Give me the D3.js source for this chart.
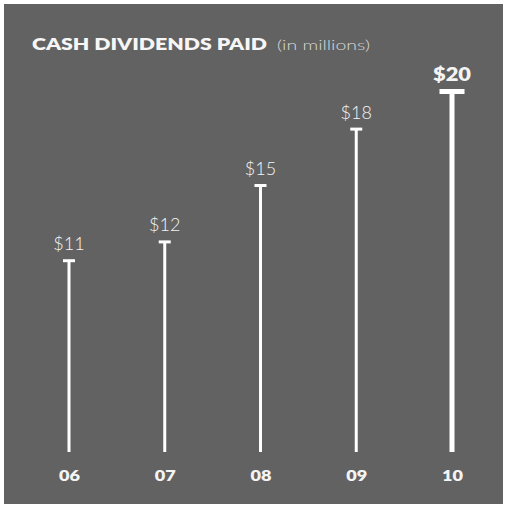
<!DOCTYPE html>
<html>
<head>
<meta charset="utf-8">
<script src="https://cdn.jsdelivr.net/npm/d3@7/dist/d3.min.js"></script>
<style>
  html, body { margin: 0; padding: 0; background: #ffffff; }
  svg { display: block; }
</style>
</head>
<body>
<script>
// Cash dividends paid, in millions of dollars
const years = ["06", "07", "08", "09", "10"];
const dividends = [11, 12, 15, 18, 20];
const valueLabels = ["$11", "$12", "$15", "$18", "$20"];

const W = 505, H = 506;
const svg = d3.select("body").append("svg").attr("width", W).attr("height", H);

// panel background
svg.append("rect")
  .attr("x", 4).attr("y", 4)
  .attr("width", W - 6).attr("height", H - 6)
  .attr("fill", "#626262");

const x = d3.scalePoint().domain(years).range([69, 452]);
const y = d3.scaleLinear().domain([0, 20]).range([467, 91]);
const baseY = 452;

const data = years.map((yr, i) => ({ yr, v: dividends[i], label: valueLabels[i], last: i === years.length - 1 }));

const g = svg.append("g");

// stems
g.selectAll("line.stem").data(data).join("line")
  .attr("class", "stem")
  .attr("x1", d => x(d.yr)).attr("x2", d => x(d.yr))
  .attr("y1", baseY).attr("y2", d => y(d.v))
  .attr("stroke", "#ffffff")
  .attr("stroke-width", d => d.last ? 5 : 3);

// caps
g.selectAll("rect.cap").data(data).join("rect")
  .attr("class", "cap")
  .attr("x", d => x(d.yr) - (d.last ? 12.5 : 6))
  .attr("y", d => y(d.v) - (d.last ? 2 : 1))
  .attr("width", d => d.last ? 25 : 12)
  .attr("height", d => d.last ? 5 : 3)
  .attr("fill", "#ffffff");

// value labels
const vals = g.selectAll("text.val").data(data).join("text")
  .attr("class", "val")
  .attr("x", d => x(d.yr))
  .attr("y", d => y(d.v) - 10)
  .attr("text-anchor", "middle")
  .attr("font-family", "Lato, 'Open Sans', sans-serif")
  .attr("font-weight", d => d.last ? 800 : 300)
  .attr("font-size", d => d.last ? 19 : 18)
  .attr("fill", "#f4f4f4")
  .text(d => d.label);
// the latest year is set wider and heavier
vals.filter(d => d.last)
  .attr("textLength", 38)
  .attr("lengthAdjust", "spacingAndGlyphs");

// year axis labels
const xAxis = d3.axisBottom(x).tickSize(0).tickPadding(0);
const ax = svg.append("g").attr("transform", `translate(0,${481})`).call(xAxis);
ax.select(".domain").remove();
ax.selectAll("text")
  .attr("dy", 0)
  .attr("y", 0)
  .attr("font-family", "Lato, 'Open Sans', sans-serif")
  .attr("font-weight", 800)
  .attr("font-size", 15)
  .attr("textLength", 21)
  .attr("lengthAdjust", "spacingAndGlyphs")
  .attr("fill", "#f4f4f4");

// title
svg.append("text")
  .attr("x", 32).attr("y", 50)
  .attr("font-family", "Lato, 'Open Sans', sans-serif")
  .attr("font-weight", 800)
  .attr("font-size", 17)
  .attr("textLength", 235)
  .attr("lengthAdjust", "spacingAndGlyphs")
  .attr("fill", "#f6f6f6")
  .text("CASH DIVIDENDS PAID");
svg.append("text")
  .attr("x", 277).attr("y", 50)
  .attr("font-family", "Lato, 'Open Sans', sans-serif")
  .attr("font-weight", 300)
  .attr("font-size", 14)
  .attr("textLength", 93)
  .attr("lengthAdjust", "spacingAndGlyphs")
  .attr("fill", "#d8d8d8")
  .text("(in millions)");
</script>
</body>
</html>
